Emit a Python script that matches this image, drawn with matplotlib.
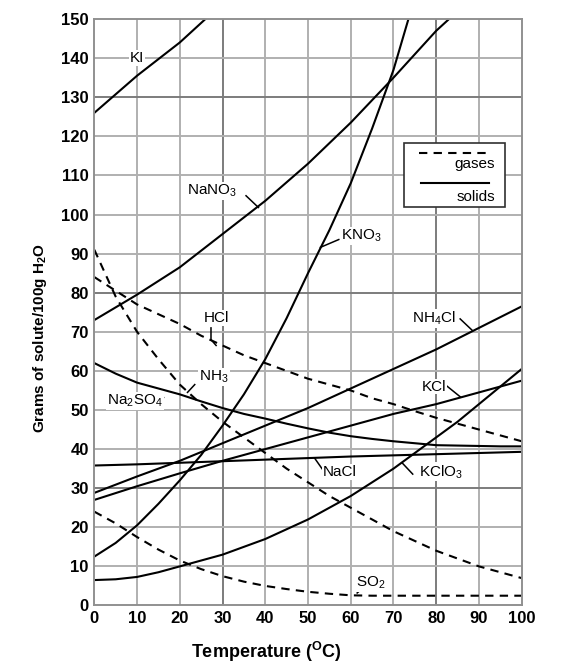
import matplotlib
matplotlib.use('Agg')
import matplotlib.pyplot as plt

plt.rcParams['font.family'] = ['Liberation Sans', 'DejaVu Sans']
plt.rcParams['mathtext.fontset'] = 'custom'
plt.rcParams['mathtext.rm'] = 'Liberation Sans'
plt.rcParams['mathtext.bf'] = 'Liberation Sans:bold'

# solubility curves (g solute / 100 g water)
temps = [0, 10, 20, 30, 40, 50, 60, 70, 80, 90, 100]
temps5 = list(range(0, 101, 5))

ki_t = [0, 10, 20, 26]
ki = [126, 135.5, 144, 150]

nano3_t = [0, 10, 20, 30, 40, 50, 60, 70, 80, 83]
nano3 = [73, 79.5, 86.5, 95, 103.5, 113, 123.5, 135, 147, 150]

kno3_t = [0, 5, 10, 15, 20, 25, 30, 35, 40, 45, 50, 55, 60, 65, 70, 73.5]
kno3 = [12.5, 16, 20.5, 26, 32, 38.5, 46, 54, 63, 73.5, 85, 96, 108, 122, 137, 150]

nh4cl = [28.8, 33, 37, 41.5, 46, 50.5, 55.5, 60.5, 65.5, 71, 76.5]
kcl = [27, 30.5, 33.8, 37, 40, 43, 46, 49, 51.5, 54.5, 57.5]
nacl = [35.8, 36.1, 36.5, 36.9, 37.3, 37.7, 38.1, 38.4, 38.7, 39, 39.3]
na2so4 = [62, 59.3, 57, 55.5, 54, 52.2, 50.5, 49, 47.8, 46.5, 45.3, 44.2, 43.3,
          42.6, 42, 41.5, 41, 40.9, 40.8, 40.7, 40.7]
kclo3 = [6.5, 6.7, 7.3, 8.5, 10, 11.5, 13, 15, 17, 19.5, 22, 25, 28, 31.5, 35,
         39, 43, 47, 51.5, 56, 60.5]

hcl = [84, 80.5, 77, 74.5, 72, 69, 66.5, 64, 62, 60, 58, 56.5, 55, 53, 51.5,
       49.7, 48, 46.5, 45, 43.5, 42]
nh3 = [91, 79, 70, 63, 56.5, 51.5, 47, 43, 39, 35, 31.5, 28, 25, 22, 19, 16.5,
       14, 12, 10, 8.5, 7]
so2 = [24, 21, 17.5, 14.3, 11.5, 9.3, 7.5, 6.1, 5, 4.2, 3.5, 3, 2.6, 2.5, 2.5,
       2.5, 2.5, 2.5, 2.5, 2.5, 2.5]

fig = plt.figure(figsize=(5.74, 6.70), dpi=100)
ax = fig.add_axes([0.1643, 0.0963, 0.7446, 0.8753])

# grid
grid_c = '#b0b0b0'
dark_c = '#7c7c7c'
for x in range(10, 100, 10):
    ax.axvline(x, color=dark_c if x in (30, 80) else grid_c, lw=1.4, zorder=0)
for y in range(10, 150, 10):
    ax.axhline(y, color=dark_c if y in (30, 80, 130) else grid_c, lw=1.4, zorder=0)
for s in ax.spines.values():
    s.set_color('#909090')
    s.set_linewidth(1.4)

solid = dict(color='black', lw=1.5, zorder=2)
dash = dict(color='black', lw=1.5, ls=(0, (4, 3)), zorder=2)

ax.plot(ki_t, ki, **solid)
ax.plot(nano3_t, nano3, **solid)
ax.plot(kno3_t, kno3, **solid)
for ys in [nh4cl, kcl, nacl]:
    ax.plot(temps, ys, **solid)
for ys in [na2so4, kclo3]:
    ax.plot(temps5, ys, **solid)
for ys in [hcl, nh3, so2]:
    ax.plot(temps5, ys, **dash)

# labels with leader lines
lab = dict(fontsize=11, ha='center', va='center', zorder=4,
           bbox=dict(facecolor='white', edgecolor='none', pad=0.5))
lead = dict(color='black', lw=1.1, zorder=3)

ax.text(10, 140, 'KI', **lab)
ax.text(27.5, 106, 'NaNO$_3$', **lab)
ax.plot([35.5, 38.4], [104.8, 101.8], **lead)
ax.text(62.5, 94.5, 'KNO$_3$', **lab)
ax.plot([57.2, 52.9], [93.6, 91.6], **lead)
ax.text(28.5, 73.5, 'HCl', **lab)
ax.plot([27.3, 27.3, 28.5], [71, 68, 66.5], **lead)
ax.text(28, 58.5, 'NH$_3$', **lab)
ax.plot([23.5, 21.8], [56.5, 54.5], **lead)
ax.text(9.5, 52.3, 'Na$_2$SO$_4$', **lab)
ax.plot([15.3, 16.2], [50.6, 53.2], **lead)
ax.text(79.5, 73.5, 'NH$_4$Cl', **lab)
ax.plot([85.6, 88.4], [73.3, 70.4], **lead)
ax.text(79.5, 56, 'KCl', **lab)
ax.plot([82.3, 85.7], [56.3, 53.3], **lead)
ax.text(57.5, 34.2, 'NaCl', **lab)
ax.plot([51.6, 53.4], [37.6, 34.8], **lead)
ax.text(81, 34.2, 'KClO$_3$', **lab)
ax.plot([72, 74.5], [36.5, 33.6], **lead)
ax.text(64.8, 5.8, 'SO$_2$', **lab)
ax.plot([61.5, 63.2], [3.2, 4.8], **lead)

# legend box
ax.add_patch(plt.Rectangle((72.4, 101.8), 23.7, 16.4, facecolor='white',
                           edgecolor='#303030', lw=1.2, zorder=4))
ax.plot([75.9, 92.3], [115.7, 115.7], **dash)[0].set_zorder(5)
ax.plot([76.5, 92.3], [108, 108], color='black', lw=1.5, zorder=5)
ax.text(93.8, 112.9, 'gases', fontsize=11, ha='right', va='center', zorder=5)
ax.text(93.8, 104.6, 'solids', fontsize=11, ha='right', va='center', zorder=5)

ax.set_xlim(0, 100)
ax.set_ylim(0, 150)
ax.set_xticks(range(0, 101, 10))
ax.set_yticks(range(0, 151, 10))
ax.tick_params(length=0, labelsize=12, pad=4)
for t in ax.get_xticklabels() + ax.get_yticklabels():
    t.set_fontweight('bold')

ax.set_xlabel('Temperature ($\\mathbf{^{O}}$C)', fontsize=13, fontweight='bold')
ax.xaxis.set_label_coords(0.403, -0.058)
ax.set_ylabel('Grams of solute/100g H$\\mathbf{_2}$O', fontsize=11, fontweight='bold')
ax.yaxis.set_label_coords(-0.105, 0.456)

plt.savefig('out.png', dpi=100)
